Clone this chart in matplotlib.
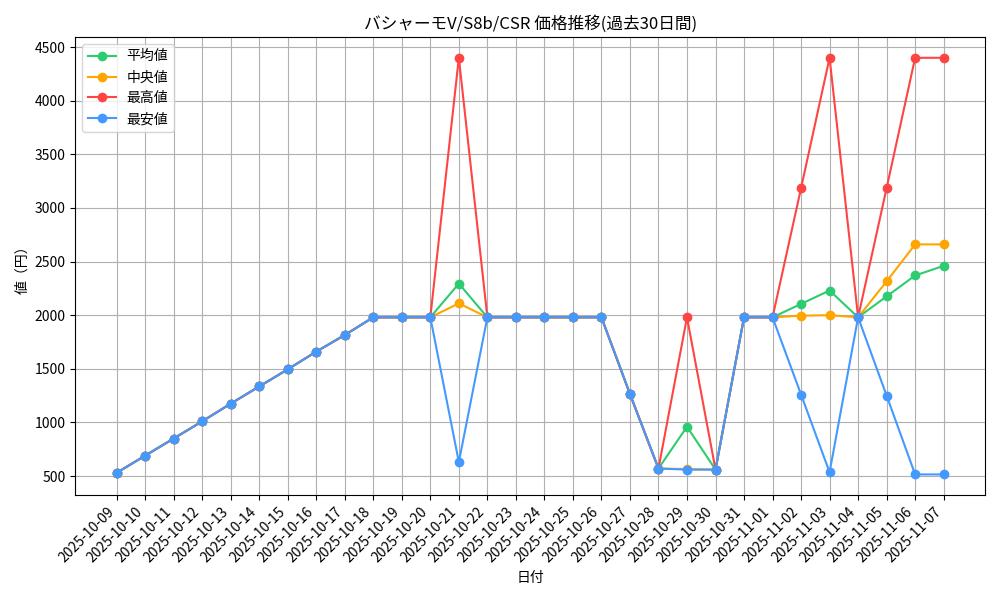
import matplotlib
matplotlib.use("Agg")
import matplotlib.pyplot as plt
import pandas as pd

plt.rcParams['font.family'] = ['Noto Sans CJK JP', 'DejaVu Sans']

dates = [d.strftime('%Y-%m-%d') for d in pd.date_range('2025-10-09', '2025-11-07')]
ramp = [530, 690, 850, 1010, 1175, 1335, 1495, 1660, 1815, 1980, 1980, 1980]
mid = [1980]*5 + [1265, 570]
mean_v = ramp[:-1] + [1980, 2295] + mid + [960, 560, 1980, 1980, 2105, 2230, 1980, 2175, 2370, 2460]
median_v = ramp[:-1] + [1980, 2110] + mid + [565, 560, 1980, 1980, 1995, 2000, 1980, 2315, 2660, 2660]
max_v = ramp[:-1] + [1980, 4400] + mid + [1980, 560, 1980, 1980, 3185, 4400, 1980, 3185, 4400, 4400]
min_v = ramp[:-1] + [1980, 630] + mid + [560, 560, 1980, 1980, 1260, 535, 1980, 1250, 515, 515]

fig, ax = plt.subplots(figsize=(10, 6), dpi=100)
ax.plot(dates, mean_v, marker='o', color='#2ecc71', label='平均値')
ax.plot(dates, median_v, marker='o', color='#ffa500', label='中央値')
ax.plot(dates, max_v, marker='o', color='#ff4444', label='最高値')
ax.plot(dates, min_v, marker='o', color='#4499ff', label='最安値')
ax.set_title('バシャーモV/S8b/CSR 価格推移(過去30日間)')
ax.set_xlabel('日付')
ax.set_ylabel('値（円）')
ax.grid(True)
ax.legend(loc='upper left')
plt.setp(ax.get_xticklabels(), rotation=45, ha='right')
fig.tight_layout()
fig.savefig('out.png')
